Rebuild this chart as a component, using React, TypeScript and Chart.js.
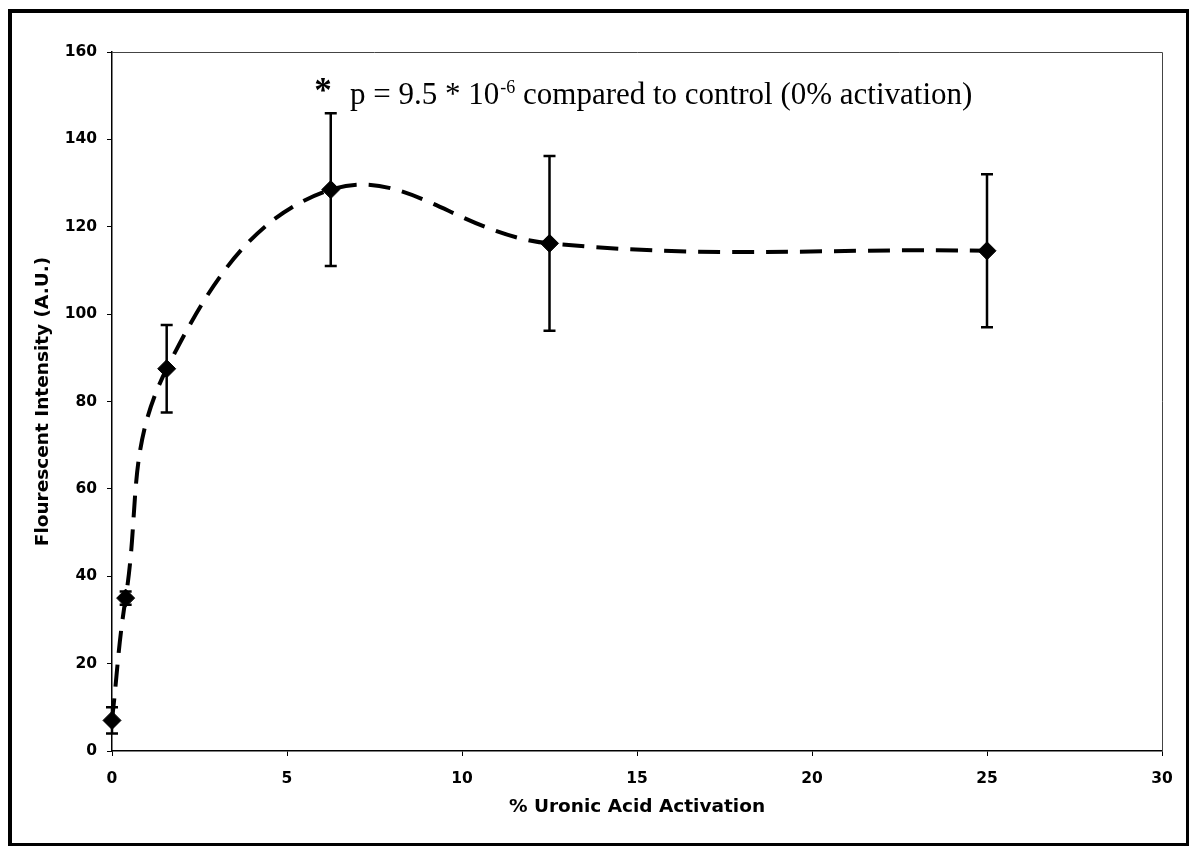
import React, { useEffect, useRef } from "react";
import { Chart, registerables } from "chart.js";

Chart.register(...registerables);

// ---- data ----
const activation = [0, 0.39, 1.5625, 6.25, 12.5, 25];
const intensity = [7, 35, 87.5, 128.5, 116.2, 114.5];
const errorSize = [3, 1.5, 10, 17.5, 20, 17.5];

const xTickValues = [0, 5, 10, 15, 20, 25, 30];
const yTickValues = [0, 20, 40, 60, 80, 100, 120, 140, 160];

const xTitle = "% Uronic Acid Activation";
const yTitle = "Flourescent Intensity (A.U.)";

const noteStar = "*";
const noteMain = "p = 9.5 * 10";
const noteSup = "-6";
const noteTail = " compared to control (0% activation)";
// annotation anchor in data units (star centre / text baseline)
const noteAnchor = { x: 6.03, y: 148 };

const SANS = '"DejaVu Sans", Verdana, sans-serif';
const SERIF = '"Liberation Serif", "Times New Roman", serif';

const errorBarPlugin = {
  id: "errorBars",
  beforeDatasetsDraw(chart: any) {
    const ctx = chart.ctx;
    const xs = chart.scales.x;
    const ys = chart.scales.y;
    ctx.save();
    ctx.strokeStyle = "#000";
    ctx.lineWidth = 2.5;
    activation.forEach((a, i) => {
      const px = xs.getPixelForValue(a);
      const top = ys.getPixelForValue(intensity[i] + errorSize[i]);
      const bot = ys.getPixelForValue(intensity[i] - errorSize[i]);
      const cap = 6;
      ctx.beginPath();
      ctx.moveTo(px, top);
      ctx.lineTo(px, bot);
      ctx.moveTo(px - cap, top);
      ctx.lineTo(px + cap, top);
      ctx.moveTo(px - cap, bot);
      ctx.lineTo(px + cap, bot);
      ctx.stroke();
    });
    ctx.restore();
  },
};

const frameAndNotePlugin = {
  id: "frameAndNote",
  afterDraw(chart: any) {
    const ctx = chart.ctx;
    const { left, right, top, bottom } = chart.chartArea;
    ctx.save();
    // thin plot-area border on top and right
    ctx.strokeStyle = "#444";
    ctx.lineWidth = 1;
    ctx.beginPath();
    ctx.moveTo(left, top + 0.5);
    ctx.lineTo(right + 0.5, top + 0.5);
    ctx.lineTo(right + 0.5, bottom);
    ctx.stroke();

    // annotation
    const xs = chart.scales.x;
    const ys = chart.scales.y;
    const sx = xs.getPixelForValue(noteAnchor.x);
    const by = ys.getPixelForValue(noteAnchor.y);
    ctx.fillStyle = "#000";
    ctx.textBaseline = "alphabetic";
    ctx.textAlign = "center";
    ctx.font = `bold 35px ${SERIF}`;
    ctx.fillText(noteStar, sx, by - 2);
    ctx.textAlign = "left";
    let tx = sx + 27;
    ctx.font = `31px ${SERIF}`;
    ctx.fillText(noteMain, tx, by);
    tx += ctx.measureText(noteMain).width + 1;
    ctx.font = `18px ${SERIF}`;
    ctx.fillText(noteSup, tx, by - 11);
    tx += ctx.measureText(noteSup).width;
    ctx.font = `31px ${SERIF}`;
    ctx.fillText(noteTail, tx, by);
    ctx.restore();
  },
};

function ChartView() {
  const ref = useRef<HTMLCanvasElement | null>(null);
  useEffect(() => {
    if (!ref.current) return;
    const chart = new Chart(ref.current, {
      type: "scatter",
      data: {
        datasets: [
          {
            data: activation.map((a, i) => ({ x: a, y: intensity[i] })),
            showLine: true,
            borderColor: "#000",
            borderWidth: 4,
            borderDash: [22, 12],
            tension: 0.4,
            pointStyle: "rectRot",
            pointRadius: 9,
            pointBackgroundColor: "#000",
            pointBorderColor: "#000",
            pointBorderWidth: 1,
            clip: false,
          } as any,
        ],
      },
      options: {
        animation: false,
        responsive: false,
        events: [],
        layout: { padding: { left: 0, right: 27, top: 52, bottom: 0 } },
        plugins: {
          legend: { display: false },
          tooltip: { enabled: false },
        },
        scales: {
          x: {
            type: "linear",
            min: 0,
            max: 30,
            afterBuildTicks: (s: any) => {
              s.ticks = xTickValues.map((v) => ({ value: v }));
            },
            afterFit: (s: any) => {
              s.height = 95;
            },
            ticks: {
              color: "#000",
              padding: 14,
              font: { family: SANS, weight: "bold", size: 15.5 },
            },
            grid: {
              display: true,
              drawOnChartArea: false,
              drawTicks: true,
              tickLength: 5,
              color: "#000",
            },
            border: { display: true, color: "#000", width: 1.5 },
            title: {
              display: true,
              text: xTitle,
              color: "#000",
              font: { family: SANS, weight: "bold", size: 18.5 },
              padding: { top: 0, bottom: 28 },
            },
          },
          y: {
            type: "linear",
            min: 0,
            max: 160,
            afterBuildTicks: (s: any) => {
              s.ticks = yTickValues.map((v) => ({ value: v }));
            },
            afterFit: (s: any) => {
              s.width = 112;
            },
            ticks: {
              color: "#000",
              padding: 10,
              font: { family: SANS, weight: "bold", size: 15.5 },
            },
            grid: {
              display: true,
              drawOnChartArea: false,
              drawTicks: true,
              tickLength: 5,
              color: "#000",
            },
            border: { display: true, color: "#000", width: 1.5 },
            title: {
              display: true,
              text: yTitle,
              color: "#000",
              font: { family: SANS, weight: "bold", size: 18.5 },
              padding: { top: 32, bottom: 0 },
            },
          },
        },
      } as any,
      plugins: [errorBarPlugin, frameAndNotePlugin],
    });
    return () => chart.destroy();
  }, []);
  return (
    <canvas
      ref={ref}
      width={1189}
      height={846}
      style={{ position: "absolute", left: 0, top: 0, width: 1189, height: 846 }}
    />
  );
}

export default function App() {
  return (
    <div
      style={{
        position: "absolute",
        left: 0,
        top: 0,
        width: 1189,
        height: 846,
        background: "#fff",
        overflow: "hidden",
      }}
    >
      <ChartView />
      <div
        style={{
          position: "absolute",
          left: 8,
          top: 9,
          width: 1181,
          height: 837,
          boxSizing: "border-box",
          borderTop: "4px solid #000",
          borderBottom: "3px solid #000",
          borderLeft: "4px solid #000",
          borderRight: "3px solid #000",
          pointerEvents: "none",
        }}
      />
    </div>
  );
}
